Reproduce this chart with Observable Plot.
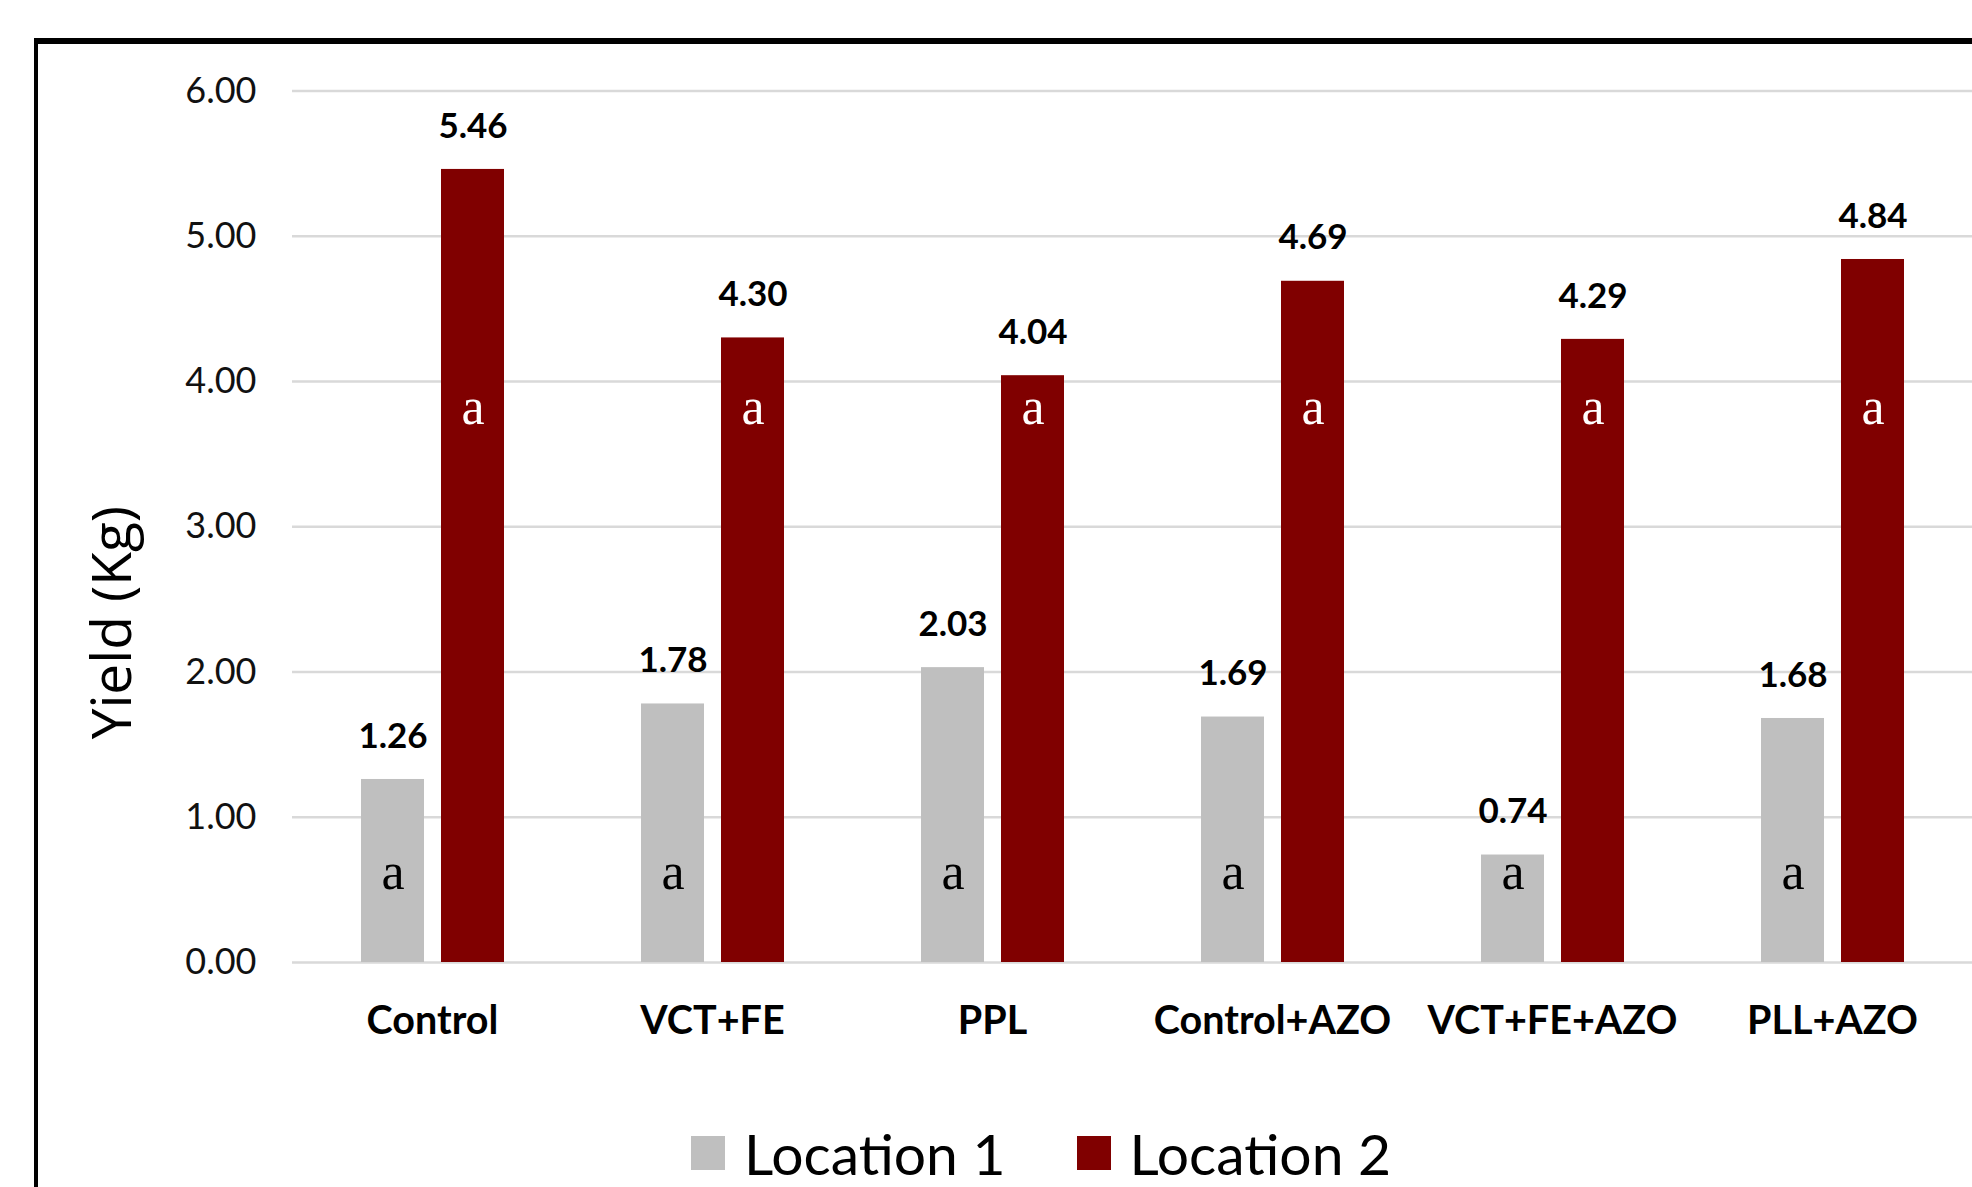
<!DOCTYPE html>
<html>
<head>
<meta charset="utf-8">
<script src="https://cdn.jsdelivr.net/npm/d3@7"></script>
<script src="https://cdn.jsdelivr.net/npm/@observablehq/plot@0.6"></script>
<style>
  html, body { margin: 0; padding: 0; background: #fff; overflow: hidden; }
  #page { position: relative; width: 1972px; height: 1187px; overflow: hidden; }
  #chart { position: absolute; left: 0; top: 0; }
  #frame {
    position: absolute; left: 34px; top: 38px; width: 3000px; height: 3000px;
    border-left: 4px solid #000; border-top: 6px solid #000; pointer-events: none; z-index: 2;
  }
  #legend { position: absolute; left: 691px; top: 1119px; }
  .loc-legend-swatch { margin-right: 71px !important; line-height: 68px; }
  .loc-legend-swatch > svg { margin-right: 19px !important; }
</style>
</head>
<body>
<div id="page">
  <div id="chart"></div>
  <div id="legend"></div>
  <div id="frame"></div>
</div>
<script>
// Treatments and mean yield (kg) at each location
const treatments = ["Control", "VCT+FE", "PPL", "Control+AZO", "VCT+FE+AZO", "PLL+AZO"];
const locations = ["Location 1", "Location 2"];
const location1 = [1.26, 1.78, 2.03, 1.69, 0.74, 1.68];
const location2 = [5.46, 4.30, 4.04, 4.69, 4.29, 4.84];
// Mean-separation letters for each bar
const letters1 = ["a", "a", "a", "a", "a", "a"];
const letters2 = ["a", "a", "a", "a", "a", "a"];
const yTicks = [0, 1, 2, 3, 4, 5, 6];
const colors = ["#bfbfbf", "#800000"];
const yTitle = "Yield (Kg)";

const rows = treatments.flatMap((t, i) => [
  {treatment: t, location: locations[0], yield: location1[i], letter: letters1[i]},
  {treatment: t, location: locations[1], yield: location2[i], letter: letters2[i]}
]);

// letters sit at a fixed height inside each bar series
const letterHeight = loc => loc === locations[0] ? 0.62 : 3.82;

const chart = Plot.plot({
  width: 1978,
  height: 1075,
  marginLeft: 290,
  marginRight: 5,
  marginTop: 90.5,
  marginBottom: 113,
  style: {maxWidth: "none", background: "transparent", overflow: "visible", fontFamily: "Lato"},
  fx: {domain: treatments, padding: 0, label: null, axis: null},
  x: {domain: locations, axis: null, paddingInner: 0.217, paddingOuter: 0.85},
  y: {domain: [0, 6], axis: null},
  color: {domain: locations, range: colors},
  marks: [
    Plot.ruleY(yTicks, {stroke: "#d9d9d9", strokeWidth: 2.6}),
    Plot.axisY({
      ticks: yTicks, tickSize: 0, tickPadding: 36, tickFormat: d3.format(".2f"),
      label: null, fontSize: 36, fill: "#111", fontFamily: "Lato"
    }),
    Plot.axisFx({
      anchor: "bottom", tickSize: 0, tickPadding: 43, label: null, fontSize: 39.5,
      fontWeight: "bold", fill: "#000", fontFamily: "Lato"
    }),
    Plot.text([yTitle], {
      frameAnchor: "left", facetAnchor: "left", y: () => 2.34, rotate: -90, dx: -179,
      textAnchor: "middle", fontSize: 55, fontFamily: "Open Sans", fill: "#000"
    }),
    Plot.barY(rows, {fx: "treatment", x: "location", y: "yield", fill: "location"}),
    Plot.text(rows, {
      fx: "treatment", x: "location", y: "yield", text: d => d.yield.toFixed(2),
      dy: -43, fontSize: 35, fontWeight: "bold", fontFamily: "Lato", fill: "#000"
    }),
    Plot.text(rows, {
      fx: "treatment", x: "location", y: d => letterHeight(d.location), text: "letter",
      fontSize: 52, fontFamily: "Liberation Serif",
      fill: d => d.location === locations[0] ? "#000" : "#fff"
    })
  ]
});
document.getElementById("chart").append(chart);

const legend = Plot.legend({
  color: {domain: locations, range: colors},
  legend: "swatches",
  swatchSize: 34,
  className: "loc-legend",
  style: {fontSize: "57px", fontFamily: "Lato", color: "#000", margin: 0}
});
document.getElementById("legend").append(legend);
</script>
</body>
</html>
